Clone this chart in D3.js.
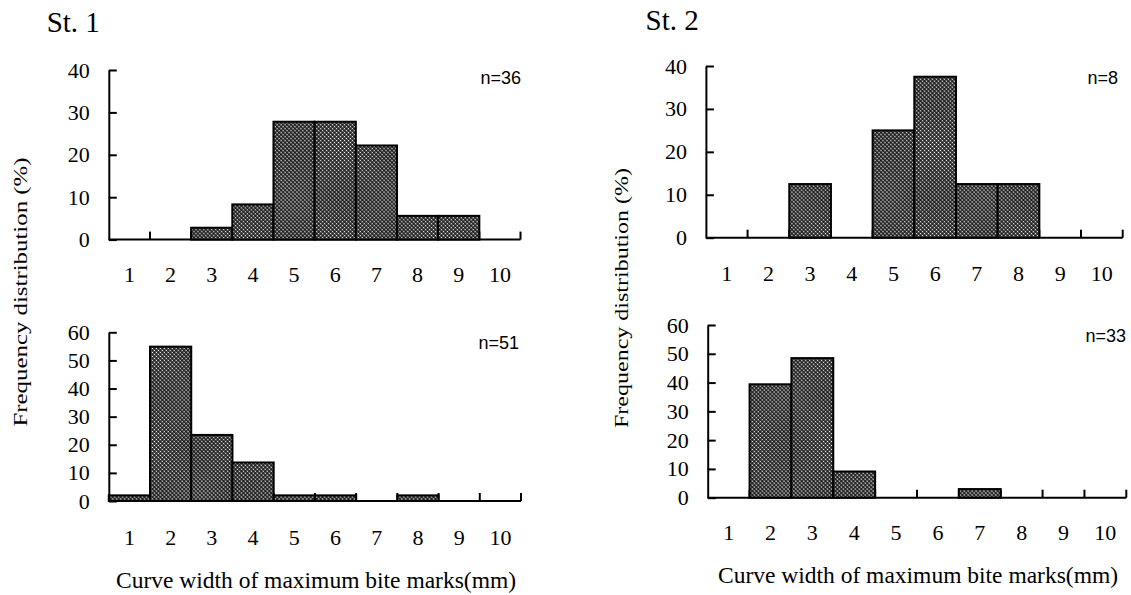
<!DOCTYPE html>
<html>
<head>
<meta charset="utf-8">
<script src="https://cdn.jsdelivr.net/npm/d3@7"></script>
<style>
  html, body { margin: 0; padding: 0; background: #fff; }
  svg { display: block; }
</style>
</head>
<body>
<svg id="chart" width="1131" height="595"></svg>
<script>
// ---------------- data ----------------
const categories = ["1", "2", "3", "4", "5", "6", "7", "8", "9", "10"];
const st1Upper = [0, 0, 2.8, 8.3, 27.8, 27.8, 22.2, 5.6, 5.6, 0];
const st1Lower = [2.0, 54.9, 23.5, 13.7, 2.0, 2.0, 0, 2.0, 0, 0];
const st2Upper = [0, 0, 12.5, 0, 25, 37.5, 12.5, 12.5, 0, 0];
const st2Lower = [0, 39.4, 48.5, 9.1, 0, 0, 3.0, 0, 0, 0];
const yTicksUpper = [0, 10, 20, 30, 40];
const yTicksLower = [0, 10, 20, 30, 40, 50, 60];
const nLabels = ["n=36", "n=51", "n=8", "n=33"];
const stationTitles = ["St. 1", "St. 2"];
const xTitle = "Curve width of maximum bite marks(mm)";
const yTitle = "Frequency distribution (%)";

// ---------------- layout ----------------
const SERIF = "'Liberation Serif', 'Times New Roman', serif";
const SANS = "'Liberation Sans', Arial, sans-serif";

const panels = [
  { values: st1Upper, ticks: yTicksUpper, max: 40, n: nLabels[0], x0: 108.8, x1: 520.5, yTop: 70,    yZero: 239.6, labPad: 27, nX: 521, nY: 78 },
  { values: st1Lower, ticks: yTicksLower, max: 60, n: nLabels[1], x0: 108.8, x1: 521,   yTop: 332.3, yZero: 501,   labPad: 28, nX: 519, nY: 343 },
  { values: st2Upper, ticks: yTicksUpper, max: 40, n: nLabels[2], x0: 705.9, x1: 1122.7,yTop: 66,    yZero: 237.7, labPad: 28, nX: 1118, nY: 78 },
  { values: st2Lower, ticks: yTicksLower, max: 60, n: nLabels[3], x0: 707.7, x1: 1126.3,yTop: 325,   yZero: 497.7, labPad: 27, nX: 1126, nY: 336 }
];

const svg = d3.select("#chart");

// checker pattern fill
const defs = svg.append("defs");
const pat = defs.append("pattern")
  .attr("id", "checker")
  .attr("patternUnits", "userSpaceOnUse")
  .attr("width", 2.8).attr("height", 2.8)
  .attr("patternTransform", "rotate(45)");
pat.append("rect").attr("width", 2.8).attr("height", 2.8).attr("fill", "#1c1c1c");
pat.append("circle").attr("cx", 1.4).attr("cy", 1.4).attr("r", 0.8).attr("fill", "#ffffff");

panels.forEach(p => {
  const g = svg.append("g");
  const x = d3.scaleBand().domain(categories).range([p.x0, p.x1]).paddingInner(0).paddingOuter(0);
  const y = d3.scaleLinear().domain([0, p.max]).range([p.yZero, p.yTop]);
  const data = categories.map((c, i) => ({ c, v: p.values[i] }));

  // baseline with upward ticks at bin boundaries
  g.append("line")
    .attr("x1", p.x0).attr("x2", p.x1)
    .attr("y1", y(0)).attr("y2", y(0))
    .attr("stroke", "#000").attr("stroke-width", 2);
  g.selectAll(".bt").data(categories).enter().append("line")
    .attr("x1", d => x(d) + x.bandwidth()).attr("x2", d => x(d) + x.bandwidth())
    .attr("y1", y(0)).attr("y2", y(0) - 8)
    .attr("stroke", "#000").attr("stroke-width", 2);

  // category labels
  const xAxis = g.append("g")
    .attr("transform", `translate(0,${y(0)})`)
    .call(d3.axisBottom(x).tickSize(0).tickPadding(p.labPad));
  xAxis.select(".domain").remove();
  xAxis.selectAll("text").attr("font-family", SERIF).attr("font-size", 22).attr("fill", "#000");

  // bars
  g.selectAll(".bar").data(data.filter(d => d.v > 0)).enter().append("rect")
    .attr("x", d => x(d.c))
    .attr("y", d => y(d.v))
    .attr("width", x.bandwidth())
    .attr("height", d => y(0) - y(d.v))
    .attr("fill", "url(#checker)")
    .attr("stroke", "#000")
    .attr("stroke-width", 2);

  // y axis
  const yAxis = g.append("g")
    .attr("transform", `translate(${p.x0},0)`)
    .call(d3.axisLeft(y).tickValues(p.ticks).tickSizeInner(-8).tickSizeOuter(0).tickPadding(19).tickFormat(d3.format("d")));
  yAxis.select(".domain").attr("stroke", "#000").attr("stroke-width", 2);
  yAxis.selectAll(".tick line").attr("stroke", "#000").attr("stroke-width", 2);
  yAxis.selectAll("text").attr("font-family", SERIF).attr("font-size", 22).attr("fill", "#000");

  // n label
  g.append("text")
    .attr("x", p.nX).attr("y", p.nY)
    .attr("text-anchor", "end").attr("dominant-baseline", "central")
    .attr("font-family", SANS).attr("font-size", 18).attr("fill", "#000")
    .text(p.n);
});

// station titles
svg.append("text").attr("x", 46.7).attr("y", 32)
  .attr("font-family", SERIF).attr("font-size", 29).attr("fill", "#000").text(stationTitles[0]);
svg.append("text").attr("x", 645.5).attr("y", 30)
  .attr("font-family", SERIF).attr("font-size", 29).attr("fill", "#000").text(stationTitles[1]);

// y titles
[{ cx: 20.7, cy: 292, len: 269 }, { cx: 621, cy: 298, len: 260 }].forEach(t => {
  svg.append("text")
    .attr("transform", `translate(${t.cx},${t.cy}) rotate(-90)`)
    .attr("text-anchor", "middle").attr("dominant-baseline", "central")
    .attr("font-family", SERIF).attr("font-size", 19).attr("fill", "#000")
    .attr("textLength", t.len).attr("lengthAdjust", "spacingAndGlyphs")
    .text(yTitle);
});

// x titles
[{ cx: 316, by: 588 }, { cx: 918, by: 583 }].forEach(t => {
  svg.append("text")
    .attr("x", t.cx).attr("y", t.by)
    .attr("text-anchor", "middle")
    .attr("font-family", SERIF).attr("font-size", 23.5).attr("fill", "#000")
    .text(xTitle);
});
</script>
</body>
</html>
